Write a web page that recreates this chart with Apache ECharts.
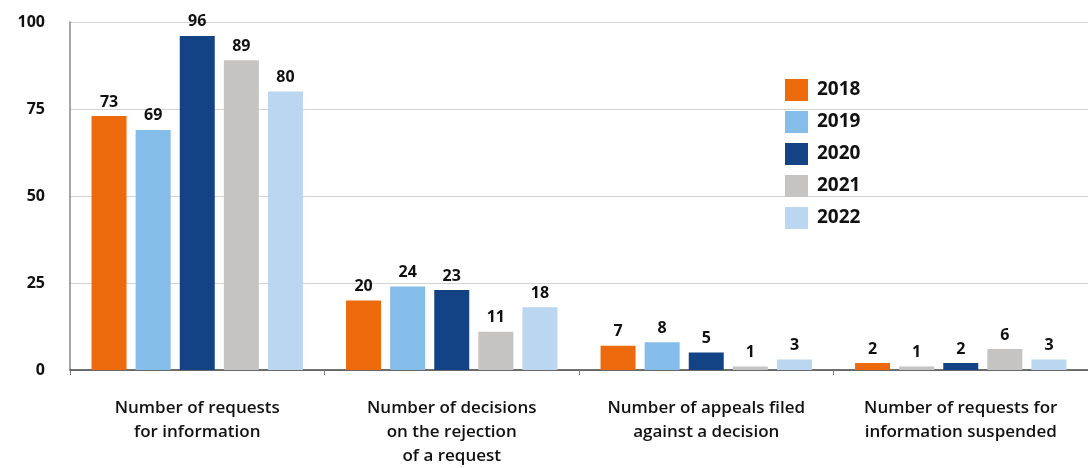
<!DOCTYPE html>
<html>
<head>
    <meta charset="utf-8">
    <script src="https://cdn.jsdelivr.net/npm/echarts@6/dist/echarts.min.js"></script>
</head>
<body style="margin:0;background:#fff;overflow:hidden;">
<div id="chart" style="width:1088px;height:468px;"></div>
<script>
  // 数据
  var categories = [
    'Number of requests\nfor information',
    'Number of decisions\non the rejection\nof a request',
    'Number of appeals filed\nagainst a decision',
    'Number of requests for\ninformation suspended'
  ];
  var years = ['2018', '2019', '2020', '2021', '2022'];
  var colors = ['#ee6b0d', '#84bde8', '#144385', '#c5c4c2', '#bbd6f0'];
  var v2018 = [73, 20, 7, 2];
  var v2019 = [69, 24, 8, 1];
  var v2020 = [96, 23, 5, 2];
  var v2021 = [89, 11, 1, 6];
  var v2022 = [80, 18, 3, 3];
  var yTicks = [0, 25, 50, 75, 100];

  var font = '"Open Sans", "Liberation Sans", sans-serif';
  var allValues = [v2018, v2019, v2020, v2021, v2022];

  var series = [];
  for (var i = 0; i < years.length; i++) {
    var data = allValues[i].map(function (v, j) {
      // 原图中 2019 年最后一组的柱子是灰色的
      if (i === 1 && j === 3) return { value: v, itemStyle: { color: '#c5c4c2' } };
      return v;
    });
    series.push({
      name: years[i],
      type: 'bar',
      data: data,
      barWidth: 35,
      barGap: '26%',
      itemStyle: { color: colors[i] },
      label: {
        show: true,
        position: 'top',
        distance: 6,
        color: '#111',
        fontWeight: 'bold',
        fontSize: 16,
        fontFamily: font
      }
    });
  }

  var myChart = echarts.init(document.getElementById('chart'));
  var option = {
    animation: false,
    legend: {
      orient: 'vertical',
      left: 780,
      top: 74,
      itemWidth: 23,
      itemHeight: 22,
      itemGap: 10,
      icon: 'rect',
      data: years,
      textStyle: { fontSize: 19, fontWeight: 'bold', color: '#111', fontFamily: font, padding: [0, 0, 0, 4] }
    },
    grid: { left: 70, top: 22, width: 1024, height: 352, containLabel: false },
    xAxis: {
      type: 'category',
      data: categories,
      axisLine: { lineStyle: { color: '#444', width: 1.5 } },
      axisTick: { show: true, length: 5, lineStyle: { color: '#777' } },
      axisLabel: { interval: 0, color: '#111', fontSize: 17, fontWeight: 600, lineHeight: 24, margin: 26, fontFamily: font }
    },
    yAxis: {
      type: 'value',
      min: yTicks[0],
      max: yTicks[yTicks.length - 1],
      interval: 25,
      axisLine: { show: true, lineStyle: { color: '#888', width: 1.5 } },
      axisTick: { show: false },
      splitLine: { lineStyle: { color: '#d4d4d4' } },
      axisLabel: { color: '#111', fontSize: 16, fontWeight: 'bold', margin: 25, fontFamily: font }
    },
    series: series
  };
  myChart.setOption(option);
</script>
</body>
</html>
